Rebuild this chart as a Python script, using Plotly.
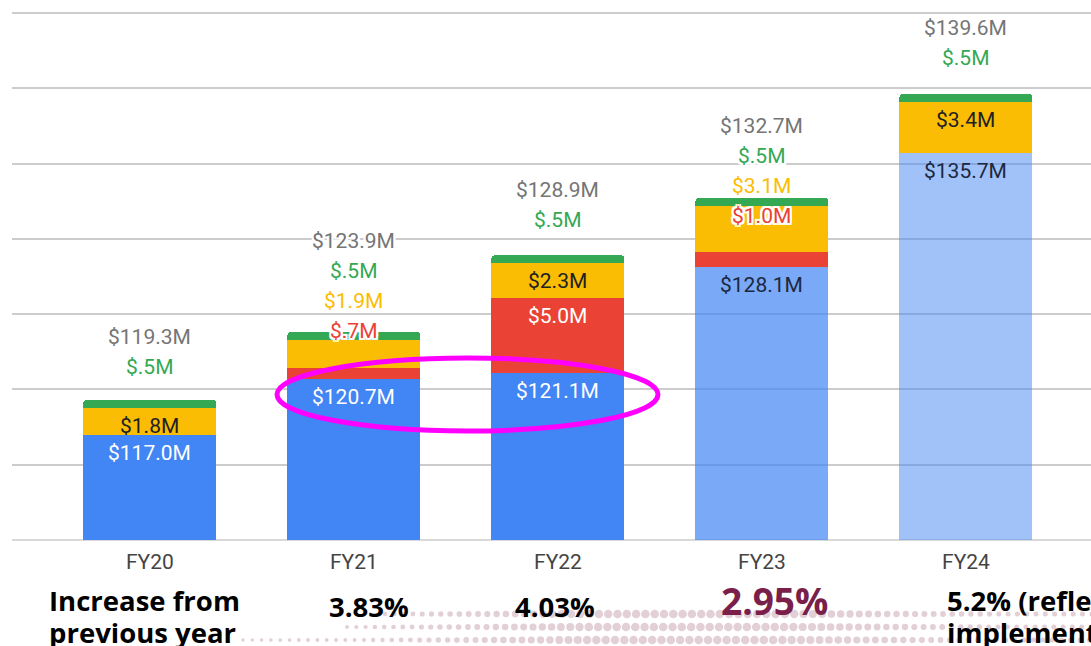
import numpy as np
import plotly.graph_objects as go

# ---------------- data ----------------
years = ["FY20", "FY21", "FY22", "FY23", "FY24"]
base_vals = [117.0, 120.7, 121.1, 128.1, 135.7]
red_vals = [0.0, 0.7, 5.0, 1.0, 0.0]
yellow_vals = [1.8, 1.9, 2.3, 3.1, 3.4]
green_vals = [0.5, 0.5, 0.5, 0.5, 0.5]
total_labels = [119.3, 123.9, 128.9, 132.7, 139.6]
increase_title = ["Increase from", "previous year"]
increase_vals = ["3.83%", "4.03%", "2.95%", "5.2% (reflects"]
increase_line2 = "implementation"

# ---------------- styles ----------------
W, H = 1091, 646
BLUE = "#4285F4"
RED = "#EA4335"
YELLOW = "#FBBC04"
GREEN = "#34A853"
GRAY = "#757575"
blue_colors = [BLUE, BLUE, BLUE, "rgba(66,133,244,0.7)", "rgba(66,133,244,0.5)"]
blue_text = ["white", "white", "white", "#1d2740", "#1d2740"]
inside_red = [False, False, True, False, False]
inside_yellow = [True, False, True, False, True]
above_base = [31, -1, 33, -20, 34]      # px offset of lowest "above" label from bar top
LINE = 30
FONT = "Roboto, Arial, sans-serif"
LBL = 21
BOLD = "Open Sans, sans-serif"
HALO = ("2px 0 0 #fff, -2px 0 0 #fff, 0 2px 0 #fff, 0 -2px 0 #fff, "
        "2px 2px 0 #fff, -2px -2px 0 #fff, 2px -2px 0 #fff, -2px 2px 0 #fff")


def fmt(v):
    s = f"{v:.1f}"
    if s.startswith("0"):
        s = s[1:]
    return f"${s}M"


fig = go.Figure()
fig.add_trace(go.Bar(x=years, y=base_vals, marker=dict(color=blue_colors, line=dict(width=0)), hoverinfo="skip"))
fig.add_trace(go.Bar(x=years, y=red_vals, marker=dict(color=RED, line=dict(width=0)), hoverinfo="skip"))
fig.add_trace(go.Bar(x=years, y=yellow_vals, marker=dict(color=YELLOW, line=dict(width=0)), hoverinfo="skip"))
fig.add_trace(go.Bar(x=years, y=green_vals, marker=dict(color=GREEN, line=dict(width=0)), hoverinfo="skip"))

ann = []
for i, yr in enumerate(years):
    b = base_vals[i]
    r_top = b + red_vals[i]
    y_top = r_top + yellow_vals[i]
    g_top = y_top + green_vals[i]
    # inside labels
    ann.append(dict(x=yr, y=b, yshift=-18, text=fmt(b), showarrow=False, yanchor="middle",
                    font=dict(family=FONT, size=LBL, color=blue_text[i])))
    if inside_red[i]:
        ann.append(dict(x=yr, y=r_top, yshift=-18, text=fmt(red_vals[i]), showarrow=False,
                        yanchor="middle", font=dict(family=FONT, size=LBL, color="white")))
    if inside_yellow[i]:
        ann.append(dict(x=yr, y=y_top, yshift=-18, text=fmt(yellow_vals[i]), showarrow=False,
                        yanchor="middle", font=dict(family=FONT, size=LBL, color="#202124")))
    # above labels (bottom to top)
    stack = []
    if not inside_red[i] and red_vals[i] > 0:
        stack.append((fmt(red_vals[i]), RED))
    if not inside_yellow[i]:
        stack.append((fmt(yellow_vals[i]), YELLOW))
    stack.append((fmt(green_vals[i]), GREEN))
    stack.append((f"${total_labels[i]:.1f}M", GRAY))
    for k, (t, c) in enumerate(stack):
        ann.append(dict(x=yr, y=g_top, yshift=above_base[i] + LINE * k + 2, text=t, showarrow=False,
                        yanchor="middle",
                        font=dict(family=FONT, size=LBL, color=c, shadow=HALO)))

# decorative halftone dots (drawn first so text sits on top)
shapes = []
rows_y = [614, 627, 640]
rows_start = [385, 347, 243]
px = np.array([240, 350, 480, 590, 790, 890, 1000, 1100])
ps = np.array([3.5, 4.0, 6.0, 8.5, 8.5, 6.5, 5.0, 5.0])
for ry, rs in zip(rows_y, rows_start):
    x = rs
    while x < W + 5:
        d = float(np.interp(x, px, ps))
        shapes.append(dict(type="circle", xref="paper", yref="paper", layer="below",
                           x0=(x - d / 2) / W, x1=(x + d / 2) / W,
                           y0=1 - (ry + d / 2) / H, y1=1 - (ry - d / 2) / H,
                           fillcolor="#e2d0d6", line=dict(width=0)))
        x += 9.3

# bottom row text
ann.append(dict(xref="paper", yref="paper", x=47 / W, y=1 - 600 / H, xanchor="left", yanchor="middle",
                text=increase_title[0], showarrow=False,
                font=dict(family=BOLD, size=27.5, color="black", weight=700)))
ann.append(dict(xref="paper", yref="paper", x=47 / W, y=1 - 632 / H, xanchor="left", yanchor="middle",
                text=increase_title[1], showarrow=False,
                font=dict(family=BOLD, size=27.5, color="black", weight=700)))
inc_x = ["FY21", "FY22", "FY23", "FY24"]
inc_shift = [15, -3, 13, -21]
inc_y = [606, 606, 600, 600]
inc_size = [27.5, 27.5, 37, 27.5]
inc_color = ["black", "black", "#7a1f4a", "black"]
inc_anchor = ["center", "center", "center", "left"]
for j in range(4):
    ann.append(dict(x=inc_x[j], xshift=inc_shift[j], yref="paper", y=1 - inc_y[j] / H,
                    xanchor=inc_anchor[j], yanchor="middle", text=increase_vals[j], showarrow=False,
                    font=dict(family=BOLD, size=inc_size[j], color=inc_color[j], weight=700)))
ann.append(dict(x="FY24", xshift=-21, yref="paper", y=1 - 632 / H, xanchor="left", yanchor="middle",
                text=increase_line2, showarrow=False,
                font=dict(family=BOLD, size=27.5, color="black", weight=700)))

# magenta ellipse
shapes.append(dict(type="circle", xref="paper", yref="paper", layer="above",
                   x0=277 / W, x1=658 / W, y0=1 - 431 / H, y1=1 - 358 / H,
                   line=dict(color="#ff00ff", width=5)))

ymin = 110
ymax = 110 + 540 / (527 / 35)
fig.update_layout(
    width=W, height=H,
    margin=dict(l=0, r=0, t=0, b=0),
    paper_bgcolor="white", plot_bgcolor="rgba(0,0,0,0)",
    barmode="stack", bargap=0.348, barcornerradius=3,
    showlegend=False,
    annotations=ann, shapes=shapes,
    xaxis=dict(domain=[12 / W, 1], range=[-0.676, 4.613], showgrid=False, zeroline=False,
               showline=False, ticks="", ticklabelstandoff=7,
               tickfont=dict(family=FONT, size=21, color="#444444")),
    yaxis=dict(domain=[106 / H, 1], range=[ymin, ymax], dtick=5, tick0=110,
               showticklabels=False, showgrid=True, gridcolor="#cccccc", gridwidth=1.5,
               zeroline=False, showline=False),
)
fig.add_shape(type="line", xref="paper", yref="paper", x0=12 / W, x1=1, y0=106 / H, y1=106 / H,
              line=dict(color="#cccccc", width=1.5), layer="below")

fig.write_html("out.html")
